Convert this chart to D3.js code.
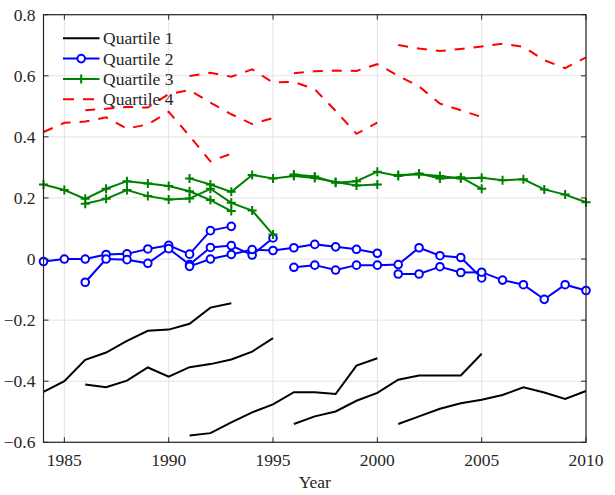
<!DOCTYPE html>
<html>
<head>
<meta charset="utf-8">
<script src="https://cdn.jsdelivr.net/npm/d3@7"></script>
<style>
    body { margin: 0; background: #fff; font-family: "Liberation Serif", serif; }
    svg text { font-family: "Liberation Serif", serif; }
</style>
</head>
<body>
<svg id="chart" width="615" height="495"></svg>
<script>
// each segment is a 10 year window starting in these years
const windowStarts = [1984, 1986, 1991, 1996, 2001];

const quartile1 = [
    [-0.435, -0.400, -0.330, -0.306, -0.268, -0.235, -0.231, -0.212, -0.159, -0.145],
    [-0.411, -0.420, -0.398, -0.355, -0.385, -0.354, -0.344, -0.329, -0.303, -0.259],
    [-0.578, -0.570, -0.535, -0.502, -0.476, -0.436, -0.436, -0.442, -0.349, -0.325],
    [-0.540, -0.515, -0.499, -0.464, -0.438, -0.395, -0.381, -0.381, -0.381, -0.310],
    [-0.540, -0.515, -0.490, -0.472, -0.461, -0.445, -0.420, -0.437, -0.458, -0.432]
];

const quartile2 = [
    [-0.008, 0.000, 0.000, 0.015, 0.017, 0.033, 0.045, 0.016, 0.093, 0.107],
    [-0.076, 0.000, -0.002, -0.014, 0.034, -0.018, 0.038, 0.044, 0.013, 0.069],
    [-0.024, 0.000, 0.015, 0.031, 0.028, 0.037, 0.048, 0.040, 0.032, 0.019],
    [-0.027, -0.020, -0.036, -0.020, -0.020, -0.018, 0.037, 0.011, 0.005, -0.062],
    [-0.049, -0.049, -0.025, -0.044, -0.043, -0.069, -0.084, -0.132, -0.084, -0.103]
];

const quartile3 = [
    [0.244, 0.226, 0.197, 0.230, 0.255, 0.247, 0.239, 0.222, 0.193, 0.157],
    [0.181, 0.197, 0.226, 0.206, 0.195, 0.198, 0.230, 0.184, 0.159, 0.080],
    [0.264, 0.244, 0.220, 0.275, 0.264, 0.272, 0.265, 0.252, 0.241, 0.244],
    [0.277, 0.270, 0.250, 0.255, 0.286, 0.272, 0.280, 0.264, 0.268, 0.230],
    [0.275, 0.278, 0.272, 0.264, 0.266, 0.258, 0.261, 0.228, 0.211, 0.186]
];

const quartile4 = [
    [0.416, 0.446, 0.450, 0.464, 0.427, 0.441, 0.482, 0.403, 0.320, 0.345],
    [0.487, 0.492, 0.498, 0.496, 0.540, 0.553, 0.512, 0.474, 0.442, 0.462],
    [0.599, 0.610, 0.597, 0.621, 0.578, 0.580, 0.556, 0.485, 0.410, 0.447],
    [0.608, 0.615, 0.617, 0.616, 0.638, 0.600, 0.565, 0.509, 0.487, 0.465],
    [0.701, 0.689, 0.681, 0.688, 0.696, 0.705, 0.695, 0.651, 0.625, 0.660]
];

const seriesNames = ["Quartile 1", "Quartile 2", "Quartile 3", "Quartile 4"];
const xTicks = [1985, 1990, 1995, 2000, 2005, 2010];
const yTicks = [-0.6, -0.4, -0.2, 0, 0.2, 0.4, 0.6, 0.8];

const width = 615;
const height = 495;
const margin = {top: 14.7, right: 29, bottom: 52.7, left: 43.5};
const plotWidth = width - margin.left - margin.right;
const plotHeight = height - margin.top - margin.bottom;
const fontSize = 17.5;
const textColor = "#262626";

const svg = d3.select("#chart");

const g = svg.append("g")
    .attr("transform", `translate(${margin.left}, ${margin.top})`);

const x = d3.scaleLinear().domain([1984, 2010]).range([0, plotWidth]);
const y = d3.scaleLinear().domain([-0.6, 0.8]).range([plotHeight, 0]);

// grid
g.append("g")
    .selectAll("line")
    .data(xTicks)
    .enter().append("line")
    .attr("x1", d => x(d)).attr("x2", d => x(d))
    .attr("y1", 0).attr("y2", plotHeight)
    .attr("stroke", "#e3e3e3").attr("stroke-width", 1);

g.append("g")
    .selectAll("line")
    .data(yTicks)
    .enter().append("line")
    .attr("x1", 0).attr("x2", plotWidth)
    .attr("y1", d => y(d)).attr("y2", d => y(d))
    .attr("stroke", "#e3e3e3").attr("stroke-width", 1);

const styles = [
    {color: "#000000", dash: null, marker: null},
    {color: "#0000ff", dash: null, marker: "circle"},
    {color: "#008000", dash: null, marker: "plus"},
    {color: "#ff0000", dash: "10,9", marker: null}
];

const line = d3.line()
    .x(d => x(d.year))
    .y(d => y(d.value));

function toPoints(values, start) {
    return values.map((v, i) => ({year: start + i, value: v}));
}

function drawMarker(sel, style) {
    if (style.marker === "circle") {
        sel.append("circle")
            .attr("r", 3.8)
            .attr("fill", "#fff")
            .attr("stroke", style.color)
            .attr("stroke-width", 2);
    } else if (style.marker === "plus") {
        sel.append("path")
            .attr("d", "M-4.5,0H4.5M0,-4.5V4.5")
            .attr("stroke", style.color)
            .attr("stroke-width", 2);
    }
}

function addText(sel, str) {
    return sel.append("text")
        .attr("font-family", "Liberation Serif")
        .style("font-family", "Liberation Serif")
        .attr("font-size", fontSize)
        .attr("fill", textColor)
        .text(str);
}

const plotArea = g.append("g");

[quartile1, quartile2, quartile3, quartile4].forEach(function(quartile, qi) {
    const style = styles[qi];
    quartile.forEach(function(values, si) {
        const pts = toPoints(values, windowStarts[si]);
        plotArea.append("path")
            .datum(pts)
            .attr("fill", "none")
            .attr("stroke", style.color)
            .attr("stroke-width", 2)
            .attr("stroke-dasharray", style.dash)
            .attr("d", line);

        if (style.marker) {
            pts.forEach(function(p) {
                const m = plotArea.append("g")
                    .attr("transform", `translate(${x(p.year)}, ${y(p.value)})`);
                drawMarker(m, style);
            });
        }
    });
});

// box and inward ticks
const axisColor = "#262626";
g.append("rect")
    .attr("width", plotWidth).attr("height", plotHeight)
    .attr("fill", "none").attr("stroke", axisColor).attr("stroke-width", 1.2);

const tickLen = 5;
xTicks.forEach(function(t) {
    g.append("line").attr("x1", x(t)).attr("x2", x(t))
        .attr("y1", plotHeight).attr("y2", plotHeight - tickLen)
        .attr("stroke", axisColor);
    g.append("line").attr("x1", x(t)).attr("x2", x(t))
        .attr("y1", 0).attr("y2", tickLen)
        .attr("stroke", axisColor);
    addText(g, t)
        .attr("x", x(t)).attr("y", plotHeight + 24)
        .attr("text-anchor", "middle");
});

yTicks.forEach(function(t) {
    g.append("line").attr("x1", 0).attr("x2", tickLen)
        .attr("y1", y(t)).attr("y2", y(t))
        .attr("stroke", axisColor);
    g.append("line").attr("x1", plotWidth).attr("x2", plotWidth - tickLen)
        .attr("y1", y(t)).attr("y2", y(t))
        .attr("stroke", axisColor);
    addText(g, t === 0 ? "0" : d3.format(".1f")(t))
        .attr("x", -8).attr("y", y(t) + 6)
        .attr("text-anchor", "end");
});

addText(g, "Year")
    .attr("x", plotWidth / 2).attr("y", plotHeight + 46)
    .attr("text-anchor", "middle");

// legend
const legend = svg.append("g");
seriesNames.forEach(function(name, i) {
    const style = styles[i];
    const ly = 38.3 + i * 20.3;
    legend.append("line")
        .attr("x1", 63).attr("x2", 99.5)
        .attr("y1", ly).attr("y2", ly)
        .attr("stroke", style.color)
        .attr("stroke-width", 2)
        .attr("stroke-dasharray", style.dash ? "11,9,11" : null);
    if (style.marker) {
        drawMarker(legend.append("g").attr("transform", `translate(81.2, ${ly})`), style);
    }
    addText(legend, name)
        .attr("x", 103).attr("y", ly + 6);
});
</script>
</body>
</html>
